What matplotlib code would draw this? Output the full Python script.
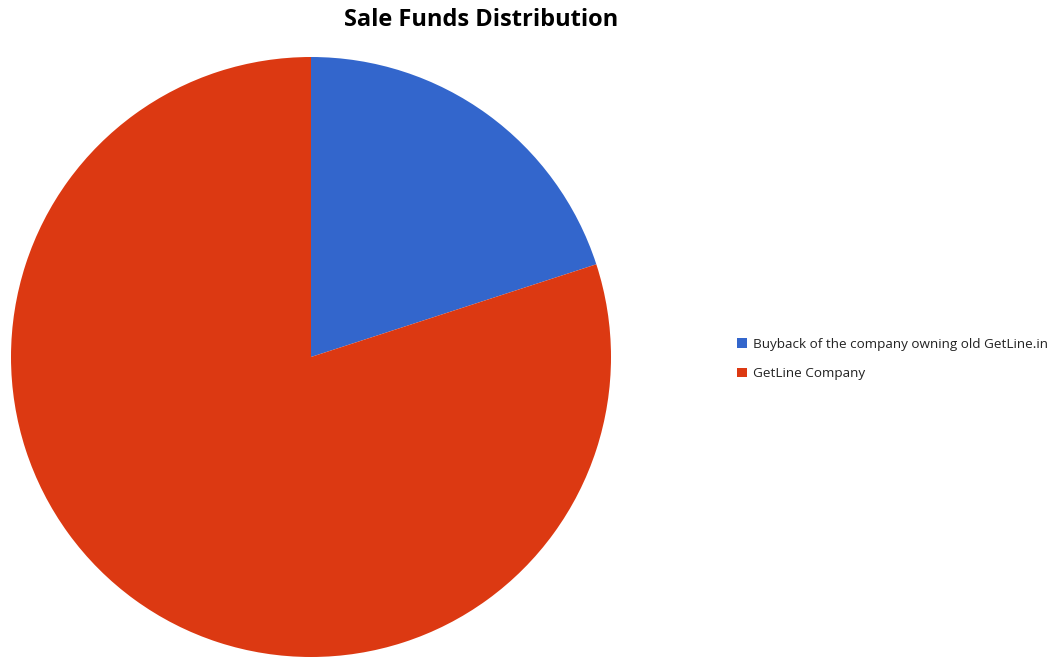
import matplotlib.pyplot as plt

labels = ["Buyback of the company owning old GetLine.in", "GetLine Company"]
values = [20, 80]
colors = ["#3366CC", "#DC3912"]

plt.rcParams['font.family'] = ['Open Sans', 'DejaVu Sans']

fig = plt.figure(figsize=(10.64, 6.59), dpi=100)
ax = fig.add_axes([11 / 1064, 2 / 659, 600 / 1064, 600 / 659])
wedges, _ = ax.pie(values, colors=colors, startangle=90, counterclock=False,
                   radius=1.0, wedgeprops=dict(linewidth=0))
ax.set_xlim(-1, 1)
ax.set_ylim(-1, 1)
ax.set_aspect('equal')
ax.axis('off')

fig.text(481 / 1064, 1 - 20 / 659, "Sale Funds Distribution", ha='center', va='center',
         fontsize=17, fontweight='bold', color='#000000')

fig.legend(wedges, labels, loc='center left', bbox_to_anchor=(725 / 1064, 1 - 359 / 659),
           frameon=False, fontsize=9.7, handlelength=0.7, handleheight=0.7,
           handletextpad=0.45, labelspacing=1.25, labelcolor='#222222')

fig.savefig("out.png", dpi=100)
